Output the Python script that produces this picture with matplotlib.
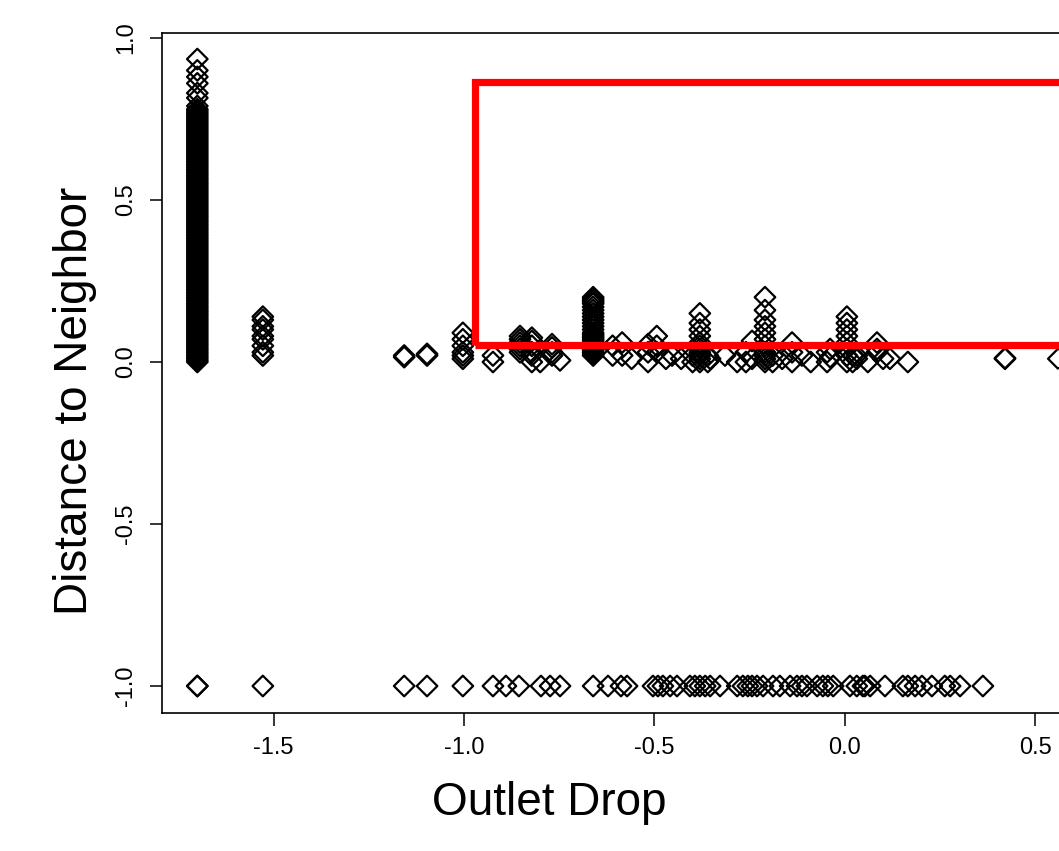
import matplotlib.pyplot as plt
from matplotlib.patches import Rectangle

plt.rcParams['font.family'] = ['Liberation Sans', 'DejaVu Sans']

# x position of the tall column and its distance values
dense_x = -1.70
dense_y = [0.00, 0.01, 0.02, 0.03, 0.04, 0.05, 0.06, 0.07, 0.08, 0.09,
           0.10, 0.11, 0.12, 0.13, 0.14, 0.15, 0.16, 0.17, 0.18, 0.19,
           0.20, 0.21, 0.22, 0.23, 0.24, 0.25, 0.26, 0.27, 0.28, 0.29,
           0.30, 0.31, 0.32, 0.33, 0.34, 0.35, 0.36, 0.37, 0.38, 0.39,
           0.40, 0.41, 0.42, 0.43, 0.44, 0.45, 0.46, 0.47, 0.48, 0.49,
           0.50, 0.51, 0.52, 0.53, 0.54, 0.55, 0.56, 0.57, 0.58, 0.59,
           0.60, 0.61, 0.62, 0.63, 0.64, 0.65, 0.66, 0.67, 0.68, 0.69,
           0.70, 0.71, 0.72, 0.73, 0.74, 0.75, 0.76, 0.77, 0.78,
           0.79, 0.815, 0.83, 0.86, 0.88, 0.90, 0.935]
dense_y_more = [0.005, 0.015, 0.025, 0.035, 0.045, 0.055, 0.065, 0.075, 0.085,
                0.095, 0.105, 0.115, 0.125, 0.135, 0.145, 0.155, 0.165, 0.175,
                0.185, 0.195, 0.205, 0.215, 0.225, 0.235, 0.245, 0.255, 0.265,
                0.275, 0.285, 0.295, 0.305, 0.315, 0.325, 0.335, 0.345, 0.355,
                0.365, 0.375, 0.385, 0.395, 0.405, 0.415, 0.425, 0.435, 0.445,
                0.455, 0.465, 0.475, 0.485, 0.495, 0.505, 0.515, 0.525, 0.535,
                0.545, 0.555, 0.565, 0.575, 0.585, 0.595, 0.605, 0.615, 0.625,
                0.635, 0.645, 0.655, 0.665, 0.675, 0.685, 0.695, 0.705, 0.715,
                0.725, 0.735, 0.745, 0.755, 0.765, 0.775]

# other outlets: x value and the distances seen at that x
cluster_x = [-1.528, -1.157, -1.097, -1.003, -0.924, -0.853, -0.822, -0.80,
             -0.769, -0.748, -0.661, -0.61, -0.585, -0.56, -0.517, -0.494,
             -0.47, -0.454, -0.43, -0.40, -0.381, -0.36, -0.354, -0.315,
             -0.283, -0.26, -0.244, -0.21, -0.19, -0.165, -0.139, -0.113,
             -0.09, -0.047, -0.039, 0.005, 0.02, 0.031, 0.06, 0.084, 0.10,
             0.118, 0.165, 0.42, 0.56]
cluster_y = [
    [0.02, 0.03, 0.05, 0.07, 0.08, 0.10, 0.11, 0.13, 0.14],
    [0.015, 0.02],
    [0.02, 0.025],
    [0.01, 0.02, 0.03, 0.05, 0.07, 0.09],
    [0.0, 0.02],
    [0.03, 0.04, 0.05, 0.06, 0.07, 0.08],
    [0.0, 0.02, 0.03, 0.05, 0.065, 0.075],
    [0.0],
    [0.02, 0.03, 0.045, 0.055],
    [0.005],
    [0.02, 0.025, 0.03, 0.035, 0.04, 0.045, 0.05, 0.055, 0.06, 0.065, 0.07,
     0.075, 0.08, 0.085, 0.09, 0.10, 0.11, 0.12, 0.13, 0.14, 0.15, 0.16,
     0.17, 0.18, 0.185, 0.19, 0.195, 0.20],
    [0.02, 0.05],
    [0.02, 0.06],
    [0.01],
    [0.0, 0.03, 0.055],
    [0.03, 0.05, 0.08],
    [0.01],
    [0.02],
    [0.01],
    [0.0, 0.02],
    [0.0, 0.01, 0.02, 0.025, 0.03, 0.04, 0.05, 0.06, 0.08, 0.10, 0.12, 0.15],
    [0.0, 0.02],
    [0.01],
    [0.02],
    [0.0],
    [0.0, 0.03],
    [0.01, 0.065],
    [0.0, 0.01, 0.02, 0.03, 0.05, 0.07, 0.09, 0.11, 0.13, 0.16, 0.20],
    [0.0, 0.02],
    [0.01],
    [0.0, 0.03, 0.06],
    [0.02],
    [0.0],
    [0.0, 0.03],
    [0.015, 0.04],
    [0.0, 0.02, 0.04, 0.06, 0.08, 0.10, 0.12, 0.14],
    [0.0, 0.02],
    [0.01, 0.02],
    [0.0],
    [0.03, 0.04, 0.06],
    [0.01],
    [0.01],
    [0.0],
    [0.01, 0.012],
    [0.01],
]

# outlets with no neighbour (plotted at -1)
no_neighbor_x = [-1.70, -1.70, -1.528, -1.157, -1.097, -1.003, -0.924, -0.890,
                 -0.856, -0.798, -0.774, -0.748, -0.661, -0.622, -0.588,
                 -0.572, -0.504, -0.491, -0.478, -0.459, -0.441, -0.407,
                 -0.394, -0.381, -0.367, -0.354, -0.328, -0.283, -0.268,
                 -0.255, -0.244, -0.231, -0.215, -0.189, -0.171, -0.144,
                 -0.126, -0.113, -0.100, -0.073, -0.058, -0.045, -0.031,
                 0.013, 0.031, 0.047, 0.052, 0.066, 0.105, 0.152, 0.165,
                 0.184, 0.202, 0.228, 0.262, 0.276, 0.302, 0.362]

# red selection box
box_left, box_bottom, box_top, box_right = -0.97, 0.052, 0.864, 0.75

xs = [dense_x] * (len(dense_y) + len(dense_y_more))
ys = list(dense_y) + list(dense_y_more)
for cx, cys in zip(cluster_x, cluster_y):
    xs += [cx] * len(cys)
    ys += cys
xs += no_neighbor_x
ys += [-1.0] * len(no_neighbor_x)

fig = plt.figure(figsize=(10.59, 8.51), dpi=100)
ax = fig.add_axes([162 / 1059, 1 - 713 / 851, (1093 - 162) / 1059, (713 - 33) / 851])

ax.scatter(xs, ys, marker='D', s=110, facecolors='none', edgecolors='black', linewidths=1.6)

ax.add_patch(Rectangle((box_left, box_bottom), box_right - box_left, box_top - box_bottom,
                       fill=False, edgecolor='#ff0000', linewidth=5.2))

ax.set_xlim(-1.7927, 0.651)
ax.set_ylim(-1.0833, 1.0154)
ax.set_xticks([-1.5, -1.0, -0.5, 0.0, 0.5])
ax.set_xticklabels(['-1.5', '-1.0', '-0.5', '0.0', '0.5'])
ax.set_yticks([-1.0, -0.5, 0.0, 0.5, 1.0])
ax.set_yticklabels(['-1.0', '-0.5', '0.0', '0.5', '1.0'], rotation=90, va='center')
ax.tick_params(axis='both', length=9, width=1.1, labelsize=17)
ax.tick_params(axis='x', pad=8)
ax.tick_params(axis='y', pad=9)
for sp in ax.spines.values():
    sp.set_linewidth(1.2)

fig.text(549 / 1059, 1 - 803 / 851, 'Outlet Drop', fontsize=33, ha='center', va='center')
fig.text(75 / 1059, 1 - 401 / 851, 'Distance to Neighbor', fontsize=33,
         rotation=90, ha='center', va='center')

fig.savefig('out.png', dpi=100)
